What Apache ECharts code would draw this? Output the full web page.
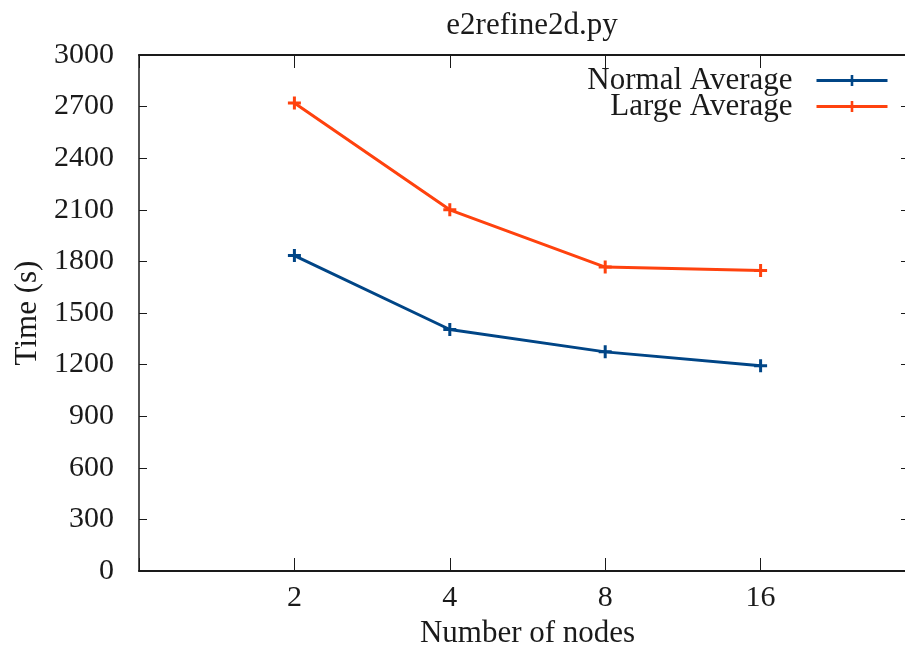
<!DOCTYPE html>
<html>
<head>
<meta charset="utf-8">
<script src="https://cdn.jsdelivr.net/npm/echarts@6/dist/echarts.min.js"></script>
<style>
  html, body { margin: 0; padding: 0; background: #fff; }
  #chart { width: 905px; height: 646px; }
</style>
</head>
<body>
<div id="chart"></div>
<script>
// Node counts on the x axis (log2 spacing) and mean run times in seconds
const nodes = [2, 4, 8, 16];
const normalAverage = [1834, 1404, 1274, 1193];
const largeAverage = [2721, 2100, 1767, 1747];
const yTicks = [0, 300, 600, 900, 1200, 1500, 1800, 2100, 2400, 2700, 3000];

const FONT = '"Liberation Serif", "DejaVu Serif", serif';
const INK = '#1a1a1a';
const plus = 'path://M-1.5,-6.5h3v5h5v3h-5v5h-3v-5h-5v-3h5z';

const chart = echarts.init(document.getElementById('chart'));

chart.setOption({
  animation: false,
  title: {
    text: 'e2refine2d.py',
    left: 527, top: 5, textAlign: 'center',
    textStyle: { fontFamily: FONT, fontSize: 31, fontWeight: 'normal', color: INK }
  },
  legend: {
    orient: 'vertical',
    right: 11, top: 60,
    align: 'right',
    itemWidth: 71, itemHeight: 14, itemGap: -5,
    lineStyle: { width: 3 },
    textStyle: { fontFamily: FONT, fontSize: 31, color: INK, padding: [0, 19, 0, 0] },
    data: ['Normal Average', 'Large Average']
  },
  grid: { left: 139, top: 55, width: 777, bottom: 75, containLabel: false, outerBoundsMode: 'none' },
  xAxis: [
    {
      type: 'log', logBase: 2, min: 1, max: 32,
      position: 'bottom',
      name: 'Number of nodes', nameLocation: 'middle', nameGap: 46,
      nameTextStyle: { fontFamily: FONT, fontSize: 31, color: INK },
      axisLine: { show: true, onZero: false, lineStyle: { color: INK, width: 2 } },
      axisTick: { show: true, inside: true, length: 13, lineStyle: { color: INK, width: 1 } },
      axisLabel: {
        fontFamily: FONT, fontSize: 30, color: INK, margin: 12,
        formatter: v => (nodes.indexOf(v) >= 0 ? String(v) : '')
      },
      splitLine: { show: false },
      minorTick: { show: false }
    },
    {
      // top frame edge with inward ticks at the same node positions
      type: 'value', min: 0, max: 5, interval: 1,
      position: 'top',
      axisLine: { show: true, onZero: false, lineStyle: { color: INK, width: 2 } },
      axisTick: { show: true, inside: true, length: 13, lineStyle: { color: INK, width: 1 } },
      axisLabel: { show: false },
      splitLine: { show: false }
    }
  ],
  yAxis: [
    {
      type: 'value', min: yTicks[0], max: yTicks[yTicks.length - 1], interval: 300,
      name: 'Time (s)', nameLocation: 'middle', nameGap: 96, nameRotate: 90,
      nameTextStyle: { fontFamily: FONT, fontSize: 31, color: INK },
      axisLine: { show: true, onZero: false, lineStyle: { color: INK, width: 1.5 } },
      axisTick: { show: true, inside: true, length: 8, lineStyle: { color: INK } },
      axisLabel: { fontFamily: FONT, fontSize: 30, color: INK, margin: 25, formatter: v => String(v) },
      splitLine: { show: false }
    },
    {
      type: 'value', min: yTicks[0], max: yTicks[yTicks.length - 1], interval: 300,
      position: 'right', offset: -7,
      axisLine: { show: false, onZero: false },
      axisTick: { show: true, inside: true, length: 8, lineStyle: { color: INK } },
      axisLabel: { show: false },
      splitLine: { show: false }
    }
  ],
  series: [
    {
      name: 'Normal Average', type: 'line',
      data: nodes.map((n, i) => [n, normalAverage[i]]),
      color: '#004586',
      lineStyle: { width: 3 },
      symbol: plus, symbolSize: 13, showAllSymbol: true,
      itemStyle: { color: '#004586' }
    },
    {
      name: 'Large Average', type: 'line',
      data: nodes.map((n, i) => [n, largeAverage[i]]),
      color: '#ff420e',
      lineStyle: { width: 3 },
      symbol: plus, symbolSize: 13, showAllSymbol: true,
      itemStyle: { color: '#ff420e' }
    }
  ]
});
</script>
</body>
</html>
